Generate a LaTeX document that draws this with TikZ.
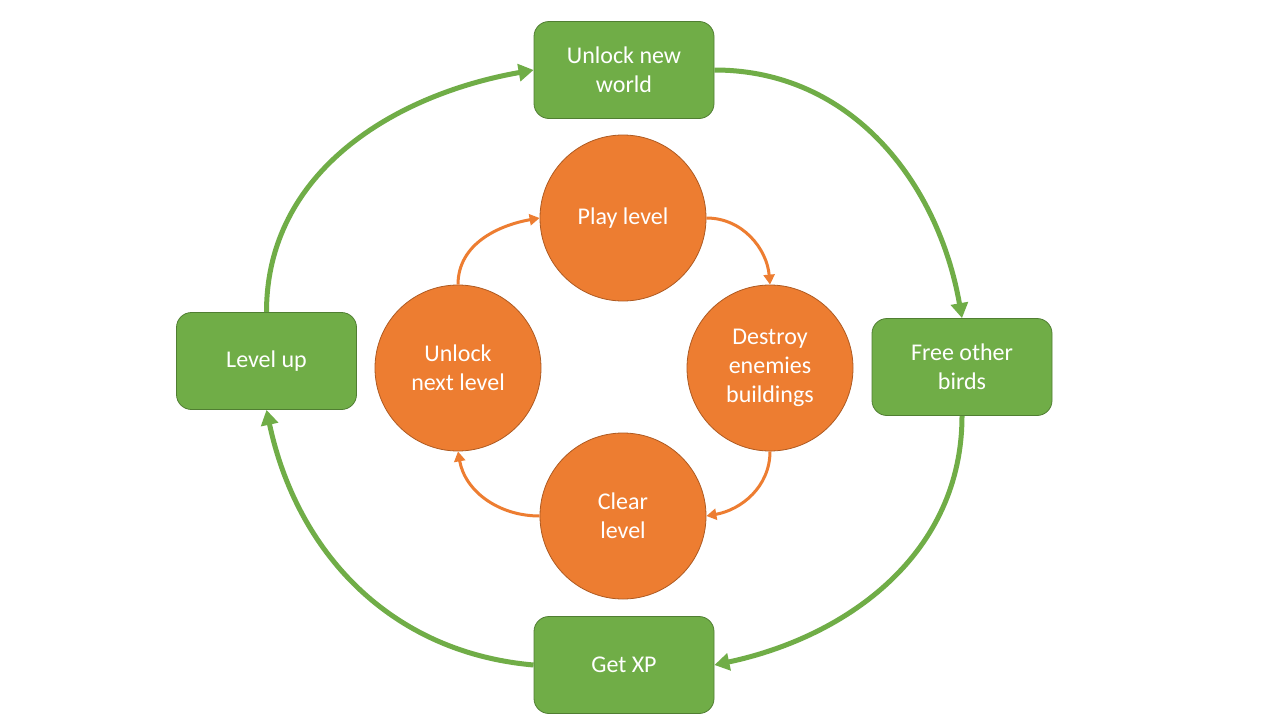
\documentclass[tikz,border=0pt]{standalone}
\usepackage{fontspec}
\setmainfont{Carlito}
\usetikzlibrary{arrows.meta}
\definecolor{gfill}{HTML}{70AD47}
\definecolor{gdraw}{HTML}{507E32}
\definecolor{ofill}{HTML}{ED7D31}
\definecolor{odraw}{HTML}{AE5A21}
\begin{document}
\begin{tikzpicture}[x=1pt,y=1pt,
  box/.style={rectangle, rounded corners=15pt, fill=gfill, draw=gdraw, line width=0.8pt,
    minimum width=180pt, minimum height=97pt, text=white, align=center,
    font=\fontsize{24}{29}\selectfont, inner sep=0pt},
  disc/.style={circle, fill=ofill, draw=odraw, line width=0.8pt, minimum size=166pt,
    inner sep=0pt, text=white, align=center, font=\fontsize{24}{29}\selectfont},
  garrow/.style={draw=gfill, line width=5pt, -{Triangle[length=15pt,width=17pt]}},
  oarrow/.style={draw=ofill, line width=3pt, -{Triangle[length=10pt,width=11pt]}}]
\useasboundingbox[fill=white] (0,0) rectangle (1280,-720);
% green boxes
\node[box] (unw) at (624,-70) {Unlock new\\world};
\node[box] (free) at (962,-367) {Free other\\birds};
\node[box] (xp) at (624,-665) {Get XP};
\node[box] (lvl) at (266.5,-361) {Level up};
% orange circles
\node[disc] (play) at (623,-218) {Play level};
\node[disc] (dest) at (770,-368) {Destroy\\enemies\\buildings};
\node[disc] (clear) at (623,-516) {Clear\\level};
\node[disc] (unl) at (458,-368) {Unlock\\next level};
% green cycle
\draw[garrow] (lvl.north) to[out=90,in=190] (unw.west);
\draw[garrow] (unw.east) to[out=0,in=100] (free.north);
\draw[garrow] (free.south) to[out=-90,in=12] (xp.east);
\draw[garrow] (xp.west) to[out=175,in=-78] (lvl.south);
% orange cycle
\draw[oarrow] (unl.north) to[out=90,in=190] (play.west);
\draw[oarrow] (play.east) to[out=0,in=95] (dest.north);
\draw[oarrow] (dest.south) to[out=-90,in=10] (clear.east);
\draw[oarrow] (clear.west) to[out=180,in=-80] (unl.south);
\end{tikzpicture}
\end{document}
